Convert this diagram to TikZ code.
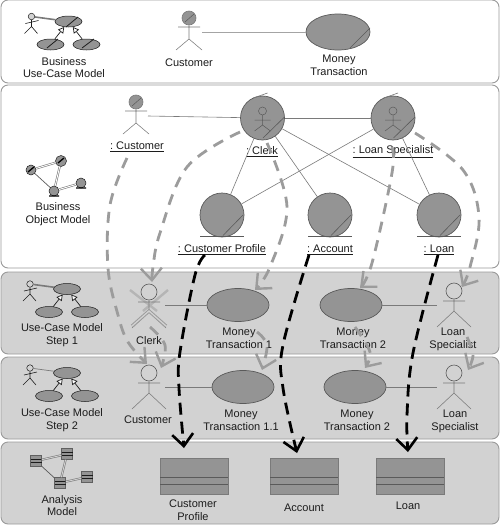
\documentclass[tikz,border=0pt]{standalone}
\usepackage{fontspec}
\setmainfont{Liberation Sans}
\frenchspacing
\usetikzlibrary{shapes.geometric,arrows.meta}
\definecolor{ink}{HTML}{1C1C1C}
\definecolor{edge}{HTML}{5A5A5A}
\definecolor{shade}{HTML}{949494}
\definecolor{panelgrey}{HTML}{D2D2D2}
\definecolor{frameg}{HTML}{9A9A9A}
\definecolor{flowg}{HTML}{9C9C9C}
\definecolor{linkg}{HTML}{7A7A7A}
\tikzset{
  panel/.style={draw=frameg,line width=0.9pt,rounded corners=7pt},
  txt/.style={font=\fontsize{11}{12.8}\selectfont,text=ink,align=center,inner sep=0pt},
  usecase/.style={ellipse,draw=edge,fill=shade,line width=0.7pt,inner sep=0pt},
  orb/.style={circle,draw=edge,fill=shade,line width=0.7pt,inner sep=0pt,minimum size=44pt},
  link/.style={draw=linkg,line width=0.6pt},
  fig/.style={draw=linkg,line width=0.55pt},
  flowgrey/.style={draw=flowg,line width=2.8pt,dash pattern=on 11pt off 8pt,-{Straight Barb[length=12pt,width=21pt,line width=2.4pt]}},
  flowblack/.style={draw=black,line width=2.8pt,dash pattern=on 12pt off 7pt,-{Straight Barb[length=12pt,width=21pt,line width=2.6pt]}},
  mini/.style={draw=ink,fill=shade,line width=0.5pt,inner sep=0pt},
  dbl/.style={draw=linkg,line width=0.6pt,double=white,double distance=0.9pt},
  dblg/.style={draw=linkg,line width=0.6pt,double=panelgrey,double distance=0.9pt},
  klass/.style={rectangle,draw=linkg,fill=shade,line width=0.6pt,inner sep=0pt},
  crossg/.style={draw=flowg!75!white,line width=2.4pt},
  hollowtip/.style={ink,line width=0.7pt,-{Triangle[open,fill=white,length=6pt,width=6.5pt]}},
}
% name, x, y : actor with a filled head (small)
\newcommand{\actorfill}[3]{%
  \node[circle,draw=linkg,fill=shade,line width=0.6pt,minimum size=14pt,inner sep=0pt] (#1) at (#2,#3) {};
  \draw[fig] (#2-11,#3+9) -- (#2+11,#3+9) (#1.south) -- (#2,#3+21) -- (#2-13,#3+32) (#2,#3+21) -- (#2+13,#3+32);
  \draw[edge,line width=0.5pt] (#2-4,#3+4) -- (#2+5,#3-4);
}
% name, x, y : actor with an open head (large)
\newcommand{\actoropen}[3]{%
  \node[circle,draw=edge,line width=0.6pt,minimum size=16pt,inner sep=0pt] (#1) at (#2,#3) {};
  \draw[fig] (#2-11,#3+10) -- (#2+11,#3+10) (#1.south) -- (#2,#3+20) -- (#2-17,#3+36) (#2,#3+20) -- (#2+17,#3+36);
}
% prefix, x, y : business worker
\newcommand{\worker}[3]{%
  \node[orb] (#1) at (#2,#3) {};
  \draw[edge,line width=0.6pt] ([shift={(0.5,20)}]#1.center) -- ([shift={(22,-1)}]#1.center);
  \draw[linkg,line width=0.6pt] ([shift={(-9,-20)}]#1.center) -- ([shift={(5,-25)}]#1.center);
  \draw[edge,line width=0.5pt] (#2,#3-7) circle (4pt) (#2-8,#3+2) -- (#2+8,#3+2) (#2,#3-3) -- (#2,#3+7) -- (#2-8,#3+13) (#2,#3+7) -- (#2+8,#3+13);
}
% prefix, x, y : business entity
\newcommand{\entity}[3]{%
  \node[orb] (#1) at (#2,#3) {};
  \draw[edge,line width=0.6pt] ([shift={(1,20.5)}]#1.center) -- ([shift={(21,0)}]#1.center);
  \draw[edge,line width=0.6pt] (#2-22,#3+21.5) -- (#2+22,#3+21.5);
}
% prefix, dx, dy, width of the actor link: small use-case icon
\newcommand{\ucicon}[4]{%
  \begin{scope}[shift={(#2,#3)}]
    \node[mini,circle,minimum size=6.5pt,fill=panelgrey] (#1act) at (30,0) {};
    \draw[ink,line width=0.6pt] (24,7) -- (37,4) (#1act.south) -- (30,10) -- (23,17) (30,10) -- (36,17);
    \node[mini,ellipse,minimum width=27pt,minimum height=11pt] (#1top) at (67,5) {};
    \node[mini,ellipse,minimum width=27pt,minimum height=11pt] (#1bl) at (49,28) {};
    \node[mini,ellipse,minimum width=27pt,minimum height=11pt] (#1br) at (85,28) {};
    \draw[linkg,line width=#4pt] (#1act) -- (#1top);
    \draw[hollowtip] (#1bl) -- (#1top);
    \draw[hollowtip] (#1br) -- (#1top);
  \end{scope}
}
% name, x, y, width : class box
\newcommand{\klassbox}[4]{%
  \node[klass,minimum width=#4pt,minimum height=#4pt*0.53] (#1) at (#2,#3) {};
  \draw[edge,line width=0.6pt] (#2-#4/2,#3+1) -- (#2+#4/2,#3+1);
  \draw[edge,line width=0.6pt] (#2-#4/2,#3+8) -- (#2+#4/2,#3+8);
}
\newcommand{\tinyklass}[3]{%
  \node[klass,draw=ink!70,minimum width=11pt,minimum height=11pt] (#1) at (#2,#3) {};
  \draw[ink,line width=0.5pt] (#2-5.5,#3-1.5) -- (#2+5.5,#3-1.5) (#2-5.5,#3+1.5) -- (#2+5.5,#3+1.5);
}
\begin{document}
\begin{tikzpicture}[x=1pt,y=-1pt]
\useasboundingbox (0,0) rectangle (500,525);
% panels
\draw[panel,fill=white] (1,0) rectangle (499,83);
\draw[panel,fill=white] (1,85) rectangle (499,268);
\draw[panel,fill=panelgrey] (1,272) rectangle (499,354);
\draw[panel,fill=panelgrey] (1,357) rectangle (499,439);
\draw[panel,fill=panelgrey] (1,442) rectangle (499,524);

% panel 1
\ucicon{a}{1.5}{16.5}{1.6}
\draw[ink,line width=0.8pt] (47,48) -- (58,39) (82,48) -- (94,39) (66,27) -- (78,17);
\node[txt] (lblbuc) at (64,67.5) {Business\\Use-Case Model};
\actorfill{cust}{189}{18}
\coordinate (custr) at (202,32);
\node[txt] (lblcust) at (189,63) {Customer};
\node[usecase,minimum width=64pt,minimum height=36pt] (mt) at (338,32) {};
\draw[edge,line width=0.6pt] ([shift={(12,16)}]mt.center) -- ([shift={(32,-4)}]mt.center);
\node[txt] (lblmt) at (339,65) {Money\\Transaction};
\draw[draw=frameg!90!white,line width=0.6pt] (custr) -- (mt);

% panel 2
\node[mini,circle,minimum size=10pt] (o1) at (31,170) {};
\node[mini,circle,minimum size=11pt] (o2) at (61,161) {};
\node[mini,circle,minimum size=10pt] (o3) at (54,191) {};
\node[mini,circle,minimum size=10pt] (o4) at (81,183) {};
\draw[dbl] (o1) -- (o2);
\draw[dbl] (o2) -- (o3);
\draw[dbl] (o3) -- (o4);
\draw[edge,line width=0.7pt] (o1) -- (o3);
\draw[black,line width=1.3pt] (28,172) -- (34,167) (58,163) -- (64,158) (49,196) -- (59,196) (76,188) -- (86,188);
\node[txt] (lblbom) at (58,214.5) {Business\\Object Model};
\actorfill{ocust}{136}{102}
\coordinate (ocustr) at (148,116);
\node[txt] (lblocust) at (137,147) {\underline{: Customer}};
\worker{clerk}{262.5}{118}
\worker{spec}{393}{118}
\node[txt] (lblclerk) at (262,152) {\underline{: Clerk}};
\node[txt] (lblspec) at (393,152) {\underline{: Loan Specialist}};
\entity{prof}{222}{215}
\entity{acct}{330}{215}
\entity{loan}{439}{215}
\node[txt] (lblprof) at (222,250) {\underline{: Customer Profile}};
\node[txt] (lblacct) at (330,250) {\underline{: Account}};
\node[txt] (lblloan) at (439,250) {\underline{: Loan}};
\draw[link] (ocustr) -- (clerk);
\draw[link] (clerk) -- (spec);
\draw[link] (clerk) -- (prof);
\draw[link] (clerk) -- (acct);
\draw[link] (clerk) -- (loan);
\draw[link] (spec) -- (prof);
\draw[link] (spec) -- (loan);

% panel 3
\ucicon{b}{0}{284}{1.6}
\node[txt] (lblst1) at (62,335.5) {Use-Case Model\\Step 1};
\coordinate (xa) at (130,290); \coordinate (xb) at (157,311);
\coordinate (xc) at (168,290); \coordinate (xd) at (143,311);
\draw[crossg] (xa) -- (xb);
\draw[crossg] (xc) -- (xd);
\actoropen{sclerk}{149}{292}
\coordinate (xe) at (132,326); \coordinate (xf) at (166,326); \coordinate (xg) at (149,311);
\draw[draw=flowg,line width=1pt,double=panelgrey,double distance=1.3pt] (xe) -- (xg) -- (xf);
\node[txt] (lblsclerk) at (149,341) {Clerk};
\coordinate (sclerkr) at (165,305);
\node[usecase,minimum width=62pt,minimum height=33pt] (mt1) at (238,305) {};
\node[txt] (lblmt1) at (239,338.5) {Money\\Transaction 1};
\draw[link] (sclerkr) -- (mt1);
\node[usecase,minimum width=62pt,minimum height=33pt] (mt2) at (351,305) {};
\node[txt] (lblmt2) at (353,338.5) {Money\\Transaction 2};
\actoropen{sspec}{454}{291}
\coordinate (sspecl) at (437,305);
\node[txt] (lblsspec) at (453,339.5) {Loan\\Specialist};
\draw[link] (mt2) -- (sspecl);

% panel 4
\ucicon{c}{0}{368}{0.7}
\node[txt] (lblst2) at (62,420.5) {Use-Case Model\\Step 2};
\actoropen{ccust}{149}{373}
\coordinate (ccustr) at (165,387);
\node[txt] (lblccust) at (148,420) {Customer};
\node[usecase,minimum width=62pt,minimum height=33pt] (mt11) at (243,387) {};
\node[txt] (lblmt11) at (241,420.5) {Money\\Transaction 1.1};
\draw[link] (ccustr) -- (mt11);
\node[usecase,minimum width=62pt,minimum height=33pt] (mt22) at (355,387) {};
\node[txt] (lblmt22) at (357,420.5) {Money\\Transaction 2};
\actoropen{cspec}{454}{373}
\coordinate (cspecl) at (437,387);
\node[txt] (lblcspec) at (455,421.5) {Loan\\Specialist};
\draw[link] (mt22) -- (cspecl);

% panel 5
\tinyklass{k1}{36}{461}
\tinyklass{k2}{67}{454}
\tinyklass{k3}{60}{483}
\tinyklass{k4}{87}{477}
\draw[dblg] (k1) -- (k2);
\draw[dblg] (k2) -- (k3);
\draw[dblg] (k3) -- (k4);
\draw[edge,line width=0.7pt] (k1) -- (k3);
\node[txt] (lblam) at (62,505.5) {Analysis\\Model};
\klassbox{cprof}{194}{476}{68}
\klassbox{cacct}{304}{476}{68}
\klassbox{cloan}{410}{476}{68}
\node[txt] (lblcprof) at (193,510.5) {Customer\\Profile};
\node[txt] (lblcacct) at (304,508) {Account};
\node[txt] (lblcloan) at (408,506) {Loan};

% grey trace arrows
\draw[flowgrey] plot[smooth,tension=0.6] coordinates {(127,158) (110,205) (108,268) (118,315) (128,342) (147,364)};
\draw[flowgrey] plot[smooth,tension=0.6] coordinates {(240,132) (187,167) (160,233) (153,267) (152,282)};
\draw[flowgrey] plot[smooth,tension=0.6] coordinates {(267,143) (287,207) (270,267) (255,290)};
\draw[flowgrey] plot[smooth,tension=0.6] coordinates {(392,147) (392,173) (372,263) (360,288)};
\draw[flowgrey] plot[smooth,tension=0.6] coordinates {(415,133) (463,170) (479,217) (470,267) (462,287)};
\draw[flowgrey] plot[smooth,tension=0.6] coordinates {(150,327) (165,345) (161,368)};
\draw[flowgrey] plot[smooth,tension=0.6] coordinates {(257,332) (267,345) (262,370)};
\draw[flowgrey] plot[smooth,tension=0.6] coordinates {(355,327) (370,352) (365,368)};
\draw[flowgrey] plot[smooth,tension=0.6] coordinates {(467,337) (473,355) (468,370)};

% black trace arrows
\draw[flowblack] plot[smooth,tension=0.6] coordinates {(205,255) (195,275) (180,352) (179,388) (184,448)};
\draw[flowblack] plot[smooth,tension=0.6] coordinates {(309,255) (283,345) (283,388) (297,453)};
\draw[flowblack] plot[smooth,tension=0.6] coordinates {(438,255) (413,353) (407,415) (408,452)};
\end{tikzpicture}
\end{document}
